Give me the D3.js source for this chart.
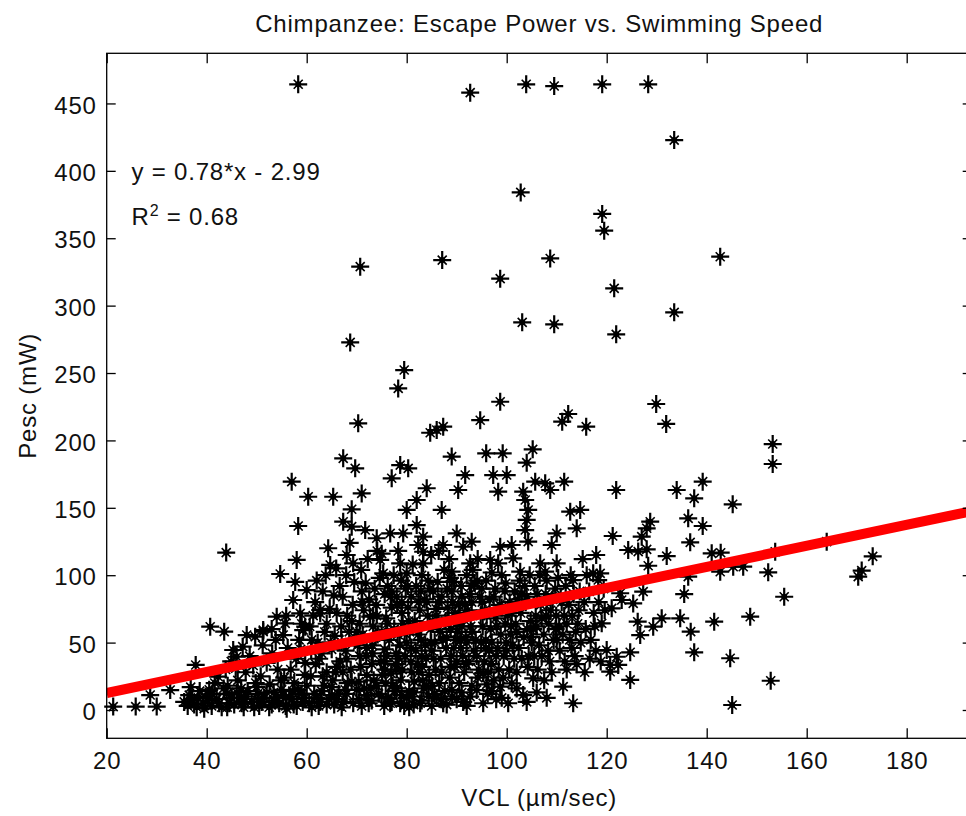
<!DOCTYPE html>
<html><head><meta charset="utf-8">
<script src="https://cdn.jsdelivr.net/npm/d3@7"></script>
<style>
html,body{margin:0;padding:0;background:#fff;}
svg text{font-family:"Liberation Sans",Arial,sans-serif;fill:#111;}
</style></head>
<body>
<svg id="c" width="966" height="816"></svg>
<script>
// ---------- data ----------
const xTicks = [20,40,60,80,100,120,140,160,180];
const yTicks = [0,50,100,150,200,250,300,350,400,450];
const fitSlope = 0.78, fitIntercept = -2.99;
const fitText = "y = 0.78*x - 2.99";
const r2Text = "0.68";

const outlierPts = [[58.3,464.2],[92.7,458],[103.9,464.2],[109.5,462.9],[119.1,464.2],[128.3,464.2],[133.5,422.8],[102.8,384],[119.1,368],[119.5,355.6],[108.7,335],[142.7,336.3],[87.1,333.8],[70.7,328.9],[98.7,320],[121.5,312.8],[133.5,295],[103.1,287.6],[109.5,286.1],[121.9,278.7],[68.7,272.7],[79.5,252.2],[78.3,238.6],[98.7,228.7],[129.9,227],[131.9,212.2],[94.7,215],[70.3,212.7],[112.3,219.6],[111.1,213.9],[115.9,210.2],[84.7,205.7],[86,207.7],[87.3,210.2]];

const upperPts = [[153.2,197.3],[153.2,182.5],[95.9,190.4],[99.2,190.4],[105.2,193.4],[104,183.5],[89,188],[67.3,186.7],[69.7,179.3],[78.7,181.7],[80.3,179.3],[77,171.9],[91.7,174.3],[97.3,174.3],[100,174.3],[57,169.4],[105.7,169.4],[107.7,168.2],[111.5,169.4],[139.2,169.4],[84,164.5],[90.3,163.2],[98.3,162],[103.3,162],[108.7,163.2],[121.9,163.2],[134,163.2],[71,160.7],[60.3,158.2],[65.3,158.2],[82,155.8],[103.7,155.8],[137.5,157],[145.2,152.6],[69,148.9],[80,148.4],[87,148.4],[104.3,148.4],[112.7,147.1],[114.7,148.4],[136.3,142.2],[104,141],[128.7,139.7],[67.3,139.7],[82,137.2],[58.3,136.5],[69,136],[139.2,136.5],[114,134.8],[128,134.8],[71.7,133.5],[103.7,133.5],[76.7,131],[79.3,131],[90,131],[110,131],[121.2,129.1],[83.3,128.6],[127,128.6],[74,127.4],[93,124.9],[104.3,124.9],[136.7,124.4],[164,124.9],[82.3,122.4],[87.3,122.4],[101,122.4],[109,122.4],[91.3,121.1],[98.7,121.1],[64.3,120],[124.3,118.7],[126.3,117.5],[128,119.2],[83.3,117.4],[153.7,117.4],[43.9,116.8],[141,116.2],[142.8,116.7],[68,115],[117.9,115],[132,114.2],[173.2,114],[58,111.3],[74.7,111.3],[96.7,111.3],[101.3,112.5],[69.3,108.8],[78.7,108.8],[83.3,108.8],[92.7,108.8],[98.3,108.8],[106.7,108.8],[110,108.8],[64.7,107.6],[128.3,107],[145.3,106.3],[147.3,106.3],[171,103.4],[170.3,98.9],[152.3,102.1],[142.7,102.6],[89,102.6],[102.7,102.6],[107.7,102.6],[75.3,101.4],[80,101.4],[117.3,101.4],[118.7,101.4],[54.7,100.9]];

const lowerPts = [[136.3,98.9],[113.3,96.4],[118.3,96.4],[127.3,87.8],[122.7,86.6],[123,81.6],[125.3,79.1],[121,75.4],[135.5,86],[155.5,84],[148.7,69.2],[141.5,65.5],[134.7,68],[131,68],[129.3,61.8],[126.2,65.5],[126.7,55.6],[119,64.3],[136.8,58.1],[137.5,42.8],[144.7,38.4],[124.7,42.8],[120,44.5],[122,39.5],[120.7,33.4],[122.3,33.4],[120.7,28.4],[124.7,22.3],[152.8,21.7],[145.1,3.7],[111.3,17.3],[113.3,5],[92.7,9.9],[95.3,5],[100.3,5],[105.3,23.5],[103.3,11.1],[98.7,17.3],[101,19.8],[95.3,27.2],[94,14.8],[88.7,32],[60,89],[57.3,81.6],[58.7,71.7],[62.7,71.7],[59.3,59.3],[72.7,69.2],[40.7,61.8],[43.5,58.1],[48,55.6],[49.7,54.4],[51.3,58.1],[54,69.2],[55.7,64.3],[55.3,55.6],[45.3,44.5],[46,39.5],[37.8,33.4],[42.3,24.7],[28.7,11.1],[32.7,14.8],[21.3,2.5],[25.8,2.5],[30,2.5],[69.3,5],[76.7,5],[78.7,5],[82.7,5],[87.3,5],[59.7,61.8],[62.7,74.2],[51.3,59.3]];

const corePts = [
[36.2,3],[37.1,8],[38,2],[38.6,14],[39.3,5],[36.8,17],[39.8,10],[35.5,6],
[41,3],[42,8],[43,2],[44,12],[44.5,5],[40.5,15],[41.6,20],[43.8,30],[44.9,36],[44.2,18],
[45.5,4],[46.6,9],[47.4,2],[48.2,14],[49,6],[46.2,22],[47.8,28],[49.3,33],[45.8,31],[48.6,40],[47.2,47],[49.8,20],[46.9,16],
[50.5,3],[51.5,9],[52.5,2],[53.4,13],[54.5,5],[50.8,25],[52,35],[53.1,42],[54.2,30],[51.2,48],[53.8,52],[52.6,19],[50.2,12],[54.8,22],[53,60],
[55.8,3],[56.5,10],[57.4,4],[58.3,15],[59.2,6],[55.5,24],[56.8,30],[57.9,38],[58.8,45],[59.6,26],[56.2,46],[57.5,20],[58.5,52],[59.7,35],[55.9,70],[57.7,95],[59,64],
[60.5,5],[61.5,12],[62.4,3],[63.5,18],[64.5,8],[60.8,25],[61.8,34],[63,42],[64,28],[62.2,50],[63.6,58],[60.6,62],[61.7,80],[63.2,88],[64.6,75],[62,96],[63.8,100],[60.9,44],[64.8,50],[61.3,70],
[65.5,4],[66.4,12],[67.3,6],[68.2,20],[65.8,28],[66.7,36],[67.8,44],[68.8,30],[69.6,52],[65.6,55],[66.9,62],[68.1,70],[69.2,78],[65.4,85],[66.6,92],[67.9,100],[69.5,95],[66,72],[68.5,58],[67.2,84],[65.9,105],[68.6,124],
[70.5,8],[71.5,16],[72.4,5],[73.4,22],[74.4,12],[70.8,32],[71.9,40],[73.1,48],[74.2,56],[70.6,64],[71.4,74],[72.5,82],[73.6,90],[74.6,98],[70.9,104],[72.2,112],[73.9,78],[74.8,36],[72,26],[70.2,48],[73.3,62],[71.8,94],[74.1,118],
[75.5,3],[76.3,9],[77.6,14],[79.5,3],[80,9],[75.8,20],[76.9,27],[77.8,34],[78.8,22],[79.7,40],[75.6,45],[76.5,52],[77.5,60],[78.6,48],[79.6,57],[75.9,68],[77,76],[78,84],[79,72],[79.8,90],[76.2,92],[77.4,100],[78.3,118],[75,116],[76.8,84],[79.2,64],[75.4,36],[77.9,42],[78.9,96],
[80.5,14],[81.5,21],[82.4,28],[83.4,16],[84.4,10],[80.8,36],[81.8,44],[82.9,52],[83.9,38],[84.8,60],[80.6,58],[81.6,66],[82.6,74],[83.6,82],[84.6,90],[80.9,84],[81.9,92],[83,100],[84.2,70],[81.2,108],[84.9,115],[82.2,34],[83.7,48],[80.3,76],[82.8,88],[84.5,26],[81.4,4],
[85.5,12],[86.5,20],[87.6,14],[88.6,24],[89.6,32],[85.8,30],[86.8,38],[87.9,46],[88.9,40],[89.8,52],[85.6,50],[86.7,58],[87.8,66],[88.8,60],[89.7,72],[85.9,75],[87,84],[88.1,90],[89.2,80],[86.2,95],[87.5,104],[88.5,112],[89.5,95],[85.3,88],[86.4,118],[89.9,64],[85.2,65],[88.2,76],
[90.5,20],[91.5,28],[92.4,36],[93.4,44],[94.4,30],[90.8,46],[91.8,54],[92.8,62],[93.8,52],[94.8,70],[90.6,70],[91.6,78],[92.6,86],[93.6,94],[94.6,84],[90.9,92],[92,100],[93.2,104],[94.2,112],[91.2,40],[94.9,50],[93,18],[90.2,58],[91,84],[94.1,96],[92.2,74],
[95.5,36],[96.5,44],[97.4,22],[98.4,30],[99.4,40],[95.8,52],[96.8,60],[97.8,68],[98.8,56],[99.7,64],[95.6,74],[96.6,82],[97.7,90],[98.6,78],[99.6,88],[95.9,96],[97,102],[99,100],[96.2,12],[97.9,8],[99.3,24],[95.2,62],[98.2,46],[96.9,34],[99.9,50],
[100.5,30],[101.5,38],[102.4,46],[103.4,54],[104.4,40],[100.8,56],[101.8,64],[102.8,72],[103.8,80],[104.8,66],[100.6,80],[101.6,88],[102.6,96],[103.6,92],[104.6,100],[101.2,48],[104.2,32],[100.2,70],[102,28],[103,86],[104.9,54],
[105.5,40],[106.5,48],[107.4,56],[108.4,64],[109.4,52],[105.8,70],[106.8,78],[107.8,86],[108.8,74],[109.7,90],[105.6,92],[106.6,100],[108,96],[109.2,82],[106.2,30],[107.5,22],[108.6,36],[109.8,60],[105.3,60],[107,68],[108.3,44],
[110.5,62],[111.5,70],[112.4,78],[113.4,86],[114.4,74],[110.8,84],[111.8,92],[112.8,100],[113.8,58],[114.8,50],[110.6,44],[111.6,36],[112.6,52],[113.6,40],[114.6,88],[112,30],[110.3,98],[114.2,64],
[115.5,80],[116.5,88],[117.4,72],[118.4,80],[119.4,90],[115.8,60],[116.8,52],[117.8,44],[118.8,36],[115.6,28],[116.6,38],[117.6,62],[119.6,74],[116,100],[115.2,112]
];

const bottomBandPts = [[36.5,11],[37.5,4],[38.3,9],[39.5,1],[40.2,7],[41.2,12],[42.5,5],[43.4,16],[44.1,2],[45,9],[46,13],[47,5],[48,10],[49.5,2],[50,17],[51,6],[52,13],[53,4],[54,9],[55,15],[56,1],[57,8],[58,3],[59,12],[60,18],[61,2],[62,9],[63,14],[64,4],[65,17],[66,8],[67,2],[68,12],[69,21],[70,15],[71,3],[72,11],[73,7],[74,18],[75,10],[77,6],[78,16],[79,11],[80.5,2],[81.5,13],[83,7],[84,18],[85,3],[86,9],[88,4],[89,15],[90,8],[91,13],[92,3],[96,19],[97,14],[99,9],[102,16],[104,6],[106,13],[108,9]];

const midFillPts = [[61,52],[62.5,38],[64,64],[65,45],[66,32],[67,50],[68,38],[69,66],[70,58],[71,88],[72,46],[73,34],[74,70],[75,58],[76,40],[77,88],[78,30],[79,80],[80,50],[81,28],[82,62],[83,40],[84,80],[85,44],[86,70],[87,28],[88,54],[89,88],[90,36],[91,62],[92,50],[93,80],[94,40],[95,90],[96,70],[97,50],[98,62],[99,76],[100,44],[101,72],[102,58],[103,38],[104,84],[105,50],[106,62],[107,40],[108,80],[109,28],[110,52],[111,80],[112,64],[113,46],[114,34]];

const denseFillPts = [[70.4,21],[72.8,16],[75.1,26],[77.2,18],[79.1,30],[81.1,10],[83.2,22],[85.1,18],[86.9,8],[89.1,10],[91.3,6],[70.6,40],[73.2,42],[75.7,30],[78.4,38],[80.9,46],[83.1,32],[85.4,38],[87.2,52],[89.4,46],[91.9,34],[94.2,24],[96.3,28],[71.2,56],[73.8,54],[76.1,64],[78.2,56],[80.4,66],[82.3,56],[84.9,50],[86.1,64],[88.4,68],[90.8,52],[93.1,58],[95.8,46],[97.9,40],[100.9,62],[71.1,80],[73.3,70],[75.6,86],[78.1,78],[80.2,92],[82.4,80],[84.3,96],[86.3,80],[88.6,98],[90.4,78],[92.9,92],[95.1,80],[97.4,84],[99.8,94],[102.2,82],[104.1,60],[106.1,86],[107.9,70],[109.9,70],[111.2,56],[113.1,70],[47.5,6],[50.3,8],[53.6,7],[55.3,11],[57.2,14],[59.6,9],[62.7,6],[65,11],[67.7,15],[63.2,25],[65.2,22],[67.2,28]];

// ---------- layout ----------
const svg = d3.select("#c");
const L = 106.7, R = 971.7, T = 53.3, B = 738.3;
const x = d3.scaleLinear().domain([20, 193]).range([L, R]);
const y = d3.scaleLinear().domain([-21, 487.2]).range([B, T]);

svg.append("defs").append("clipPath").attr("id","clip")
  .append("rect").attr("x",L).attr("y",T).attr("width",R-L).attr("height",B-T);

// markers (MATLAB-like asterisk)
const allPts = outlierPts.concat(upperPts, lowerPts, corePts, bottomBandPts, midFillPts, denseFillPts);
const plus = "M-9,0H9M0,-9V9";
const diag = "M-4.5,-4.5L4.5,4.5M-4.5,4.5L4.5,-4.5";
const gm = svg.append("g");
gm.selectAll("g.m").data(allPts).join("g").attr("class","m")
  .attr("transform", d => `translate(${x(d[0])},${y(d[1])})`)
  .each(function(){
    const g = d3.select(this);
    g.append("path").attr("d", plus).attr("stroke","#000").attr("stroke-width",2.2).attr("fill","none");
    g.append("path").attr("d", diag).attr("stroke","#000").attr("stroke-width",1.6).attr("fill","none");
    g.append("circle").attr("r",3).attr("fill","#000");
  });

// regression line
const x0 = 20, x1 = 193;
svg.append("line").attr("clip-path","url(#clip)")
  .attr("x1", x(x0)).attr("y1", y(fitSlope*x0 + fitIntercept))
  .attr("x2", x(x1)).attr("y2", y(fitSlope*x1 + fitIntercept))
  .attr("stroke","#ff0000").attr("stroke-width",10);

// axes
const fs = "24px";
const ax = (g) => { g.selectAll("line").attr("stroke","#000").attr("stroke-width",1.3); g.select(".domain").remove(); };
svg.append("g").attr("transform",`translate(0,${B})`)
  .call(d3.axisBottom(x).tickValues(xTicks).tickSize(-10).tickSizeOuter(0).tickPadding(14).tickFormat(d3.format("d")))
  .call(ax).call(g=>g.selectAll("text").attr("font-size",fs).attr("letter-spacing","0.8px").attr("fill","#111"));
svg.append("g").attr("transform",`translate(0,${T})`)
  .call(d3.axisTop(x).tickValues(xTicks).tickSize(-10).tickSizeOuter(0).tickFormat(""))
  .call(ax);
svg.append("g").attr("transform",`translate(${L},0)`)
  .call(d3.axisLeft(y).tickValues(yTicks).tickSize(-9).tickSizeOuter(0).tickPadding(10).tickFormat(d3.format("d")))
  .call(ax).call(g=>g.selectAll("text").attr("font-size",fs).attr("letter-spacing","0.8px").attr("fill","#111").attr("dy","0.4em"));
svg.append("g").attr("transform",`translate(${R},0)`)
  .call(d3.axisRight(y).tickValues(yTicks).tickSize(-9).tickSizeOuter(0).tickFormat(""))
  .call(ax);
svg.append("rect").attr("x",L).attr("y",T).attr("width",R-L).attr("height",B-T)
  .attr("fill","none").attr("stroke","#000").attr("stroke-width",1.3);

// texts
svg.append("text").attr("x",(L+R)/2).attr("y",31.5).attr("text-anchor","middle")
  .attr("font-size",fs).attr("letter-spacing","0.8px").text("Chimpanzee: Escape Power vs. Swimming Speed");
svg.append("text").attr("x",(L+R)/2).attr("y",806).attr("text-anchor","middle")
  .attr("font-size",fs).attr("letter-spacing","0.8px").text("VCL (\u00b5m/sec)");
svg.append("text").attr("transform",`translate(36,${(T+B)/2}) rotate(-90)`).attr("text-anchor","middle")
  .attr("font-size",fs).attr("letter-spacing","0.8px").text("Pesc (mW)");
svg.append("text").attr("x",131.5).attr("y",180).attr("font-size",fs).attr("letter-spacing","0.8px").text(fitText);
const r2 = svg.append("text").attr("x",131.5).attr("y",225).attr("font-size",fs).attr("letter-spacing","0.8px");
r2.append("tspan").text("R");
r2.append("tspan").attr("font-size","16px").attr("dy","-9").text("2");
r2.append("tspan").attr("dy","9").text(" = " + r2Text);
</script>
</body></html>
